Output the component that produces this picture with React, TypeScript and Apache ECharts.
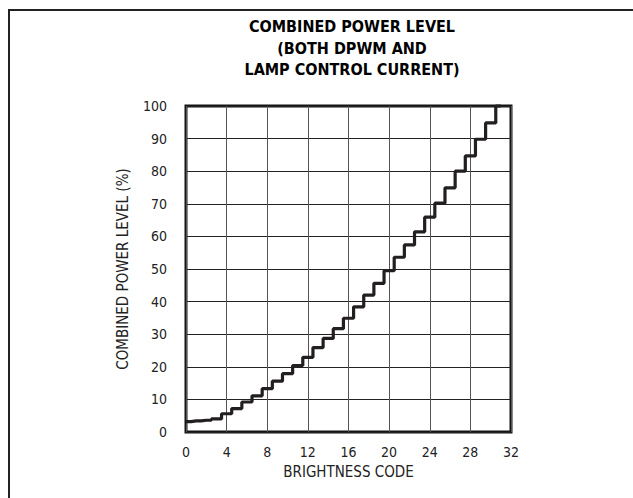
import React, { useEffect, useRef } from "react";
import * as echarts from "echarts";

const codes: number[] = [0, 1, 2, 3, 4, 5, 6, 7, 8, 9, 10, 11, 12, 13, 14, 15, 16, 17, 18, 19, 20, 21, 22, 23, 24, 25, 26, 27, 28, 29, 30, 31];
const powerLevel: number[] = [3.2, 3.4, 3.6, 4.0, 5.6, 7.2, 9.2, 11.1, 13.3, 15.6, 17.9, 20.4, 22.9, 25.9, 28.7, 31.7, 34.9, 38.4, 42.0, 45.6, 49.5, 53.6, 57.4, 61.4, 65.9, 70.2, 74.9, 80.0, 84.7, 89.8, 94.8, 100];
const titleLines: string[] = ["COMBINED POWER LEVEL", "(BOTH DPWM AND", "LAMP CONTROL CURRENT)"];
const xAxisName = "BRIGHTNESS CODE";
const yAxisName = "COMBINED POWER LEVEL (%)";

const FONT = "'Liberation Sans Narrow', 'DejaVu Sans Condensed', 'Roboto Condensed', sans-serif";

export default function App() {
  const ref = useRef<HTMLDivElement>(null);
  useEffect(() => {
    if (!ref.current) return;
    const chart = echarts.init(ref.current, undefined, { renderer: "svg" });
    chart.setOption({
      animation: false,
      backgroundColor: "#ffffff",
      title: {
        text: titleLines.join("\n"),
        left: 347,
        top: 11,
        textAlign: "center",
        textStyle: {
          fontFamily: FONT,
          fontSize: 16,
          fontWeight: "bold",
          color: "#000",
          lineHeight: 21.5,
        },
      },
      graphic: [
        {
          type: "rect",
          shape: { x: 9, y: 10, width: 800, height: 700 },
          style: { fill: "none", stroke: "#222", lineWidth: 2 },
          silent: true,
        },
      ],
      grid: {
        left: 186,
        right: 122,
        top: 106,
        bottom: 66,
        show: true,
        borderColor: "#151515",
        borderWidth: 3,
      },
      xAxis: {
        type: "value",
        min: 0,
        max: 32,
        interval: 4,
        name: xAxisName,
        nameLocation: "middle",
        nameGap: 32,
        nameTextStyle: { fontFamily: FONT, fontSize: 15, color: "#222" },
        axisLine: { show: false },
        axisTick: { show: false },
        axisLabel: { fontFamily: FONT, fontSize: 14, color: "#222", margin: 13 },
        splitLine: { show: true, lineStyle: { color: "#555", width: 1 } },
      },
      yAxis: {
        type: "value",
        min: 0,
        max: 100,
        interval: 10,
        name: yAxisName,
        nameLocation: "middle",
        nameGap: 56,
        nameRotate: 90,
        nameTextStyle: { fontFamily: FONT, fontSize: 15, color: "#222" },
        axisLine: { show: false },
        axisTick: { show: false },
        axisLabel: { fontFamily: FONT, fontSize: 14, color: "#222", margin: 19 },
        splitLine: { show: true, lineStyle: { color: "#222", width: 1 } },
      },
      series: [
        {
          type: "line",
          step: "middle",
          data: codes.map((c, i) => [c, powerLevel[i]]),
          showSymbol: false,
          clip: false,
          lineStyle: { color: "#231f20", width: 3.2 },
        },
      ],
    });
    return () => chart.dispose();
  }, []);
  return (
    <div
      ref={ref}
      style={{ position: "fixed", left: 0, top: 0, width: 633, height: 498, background: "#fff" }}
    />
  );
}
